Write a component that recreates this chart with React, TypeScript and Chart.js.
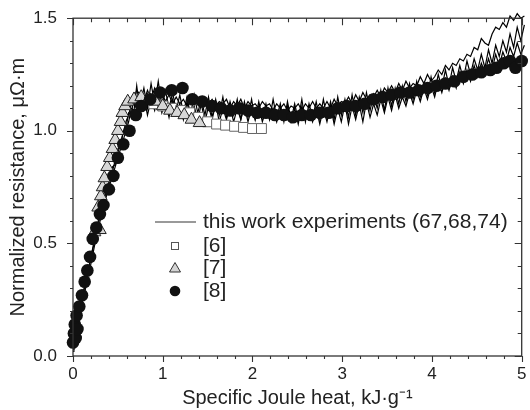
import React, { useEffect, useRef } from "react";
import { Chart, registerables } from "chart.js";
Chart.register(...registerables);

// ---------- data ----------
const lineX = [
  0, 0.01, 0.02, 0.03, 0.04, 0.06, 0.08, 0.11, 0.14, 0.17,
  0.2, 0.23, 0.26, 0.29, 0.32, 0.35, 0.38, 0.41, 0.44, 0.47,
  0.5, 0.53, 0.56, 0.59, 0.62, 0.65, 0.68, 0.71,
  0.75, 0.79, 0.83, 0.87, 0.91, 0.95, 0.99, 1.03, 1.07, 1.11,
  1.15, 1.19, 1.23, 1.27, 1.31, 1.35, 1.39, 1.43, 1.47, 1.51,
  1.55, 1.59, 1.63, 1.67, 1.71, 1.75, 1.79, 1.83, 1.87, 1.91,
  1.95, 1.99, 2.03, 2.07, 2.11, 2.15, 2.19, 2.23, 2.27, 2.31,
  2.35, 2.39, 2.43, 2.47, 2.51, 2.55, 2.59, 2.63, 2.67, 2.71,
  2.75, 2.79, 2.83, 2.87, 2.91, 2.95, 2.99, 3.03, 3.07, 3.11,
  3.15, 3.19, 3.23, 3.27, 3.31, 3.35, 3.39, 3.43, 3.47, 3.51,
  3.55, 3.59, 3.63, 3.67, 3.71, 3.75, 3.79, 3.83, 3.87, 3.91,
  3.95, 3.99, 4.03, 4.07, 4.11, 4.15, 4.19, 4.23, 4.27, 4.31,
  4.35, 4.39, 4.43, 4.47, 4.51, 4.55, 4.59, 4.63, 4.67, 4.71,
  4.75, 4.79, 4.83, 4.87, 4.91, 4.95, 4.99, 5.03,
];

const exp67 = [
  0.03, 0.12, 0.06, 0.22, 0.12, 0.2, 0.21, 0.28, 0.32, 0.39,
  0.43, 0.5, 0.55, 0.62, 0.65, 0.71, 0.74, 0.79, 0.82, 0.87,
  0.9, 0.95, 0.99, 1.04, 1.07, 1.12, 1.14, 1.18,
  1.16, 1.13, 1.18, 1.14, 1.19, 1.15, 1.17, 1.13, 1.16, 1.12,
  1.15, 1.12, 1.14, 1.11, 1.14, 1.12, 1.15, 1.11, 1.13, 1.12,
  1.14, 1.11, 1.13, 1.12, 1.14, 1.1, 1.13, 1.11, 1.14, 1.1,
  1.13, 1.11, 1.12, 1.1, 1.13, 1.11, 1.12, 1.09, 1.12, 1.1,
  1.12, 1.09, 1.11, 1.1, 1.12, 1.09, 1.12, 1.1, 1.13, 1.1,
  1.12, 1.1, 1.13, 1.1, 1.14, 1.11, 1.13, 1.12, 1.15, 1.12,
  1.16, 1.13, 1.17, 1.14, 1.16, 1.15, 1.18, 1.15, 1.19, 1.17,
  1.2, 1.17, 1.21, 1.18, 1.22, 1.19, 1.21, 1.2, 1.24, 1.21,
  1.25, 1.22, 1.24, 1.27, 1.25, 1.29, 1.27, 1.3, 1.29, 1.32,
  1.31, 1.34, 1.33, 1.37, 1.36, 1.41, 1.39, 1.38, 1.43, 1.46,
  1.45, 1.48, 1.46, 1.51, 1.49, 1.52, 1.5, 1.51,
];

const exp68 = [
  0.05, 0.09, 0.16, 0.1, 0.19, 0.15, 0.24, 0.26, 0.34, 0.37,
  0.45, 0.49, 0.57, 0.6, 0.67, 0.69, 0.76, 0.77, 0.84, 0.85,
  0.92, 0.93, 1.0, 1.01, 1.08, 1.07, 1.16, 1.11,
  1.12, 1.19, 1.1, 1.21, 1.12, 1.22, 1.11, 1.18, 1.1, 1.17,
  1.09, 1.16, 1.08, 1.15, 1.07, 1.16, 1.08, 1.14, 1.07, 1.15,
  1.06, 1.14, 1.07, 1.15, 1.06, 1.13, 1.07, 1.14, 1.05, 1.13,
  1.06, 1.14, 1.05, 1.13, 1.06, 1.12, 1.05, 1.14, 1.06, 1.12,
  1.04, 1.13, 1.05, 1.12, 1.05, 1.14, 1.04, 1.12, 1.06, 1.13,
  1.05, 1.14, 1.06, 1.13, 1.05, 1.15, 1.07, 1.14, 1.06, 1.16,
  1.07, 1.15, 1.08, 1.17, 1.09, 1.16, 1.1, 1.18, 1.09, 1.19,
  1.11, 1.19, 1.12, 1.2, 1.13, 1.21, 1.14, 1.22, 1.15, 1.21,
  1.16, 1.24, 1.17, 1.25, 1.19, 1.27, 1.2, 1.28, 1.22, 1.29,
  1.23, 1.31, 1.25, 1.32, 1.27, 1.34, 1.28, 1.36, 1.3, 1.38,
  1.33, 1.4, 1.35, 1.43, 1.37, 1.46, 1.4, 1.47,
];

const exp74 = [
  0.02, 0.06, 0.1, 0.14, 0.09, 0.17, 0.19, 0.25, 0.3, 0.36,
  0.41, 0.47, 0.53, 0.58, 0.63, 0.68, 0.72, 0.76, 0.8, 0.84,
  0.88, 0.92, 0.96, 1.0, 1.04, 1.1, 1.09, 1.2,
  1.08, 1.15, 1.07, 1.14, 1.09, 1.16, 1.08, 1.13, 1.06, 1.14,
  1.07, 1.12, 1.05, 1.13, 1.06, 1.11, 1.05, 1.12, 1.04, 1.11,
  1.05, 1.12, 1.04, 1.1, 1.05, 1.11, 1.04, 1.1, 1.05, 1.11,
  1.04, 1.1, 1.05, 1.11, 1.04, 1.09, 1.05, 1.1, 1.04, 1.1,
  1.05, 1.11, 1.04, 1.1, 1.03, 1.11, 1.05, 1.09, 1.04, 1.1,
  1.03, 1.1, 1.04, 1.11, 1.03, 1.1, 1.04, 1.12, 1.03, 1.11,
  1.05, 1.12, 1.04, 1.13, 1.06, 1.12, 1.07, 1.14, 1.08, 1.15,
  1.09, 1.16, 1.1, 1.15, 1.11, 1.17, 1.12, 1.18, 1.13, 1.19,
  1.14, 1.2, 1.15, 1.22, 1.17, 1.23, 1.18, 1.24, 1.19, 1.26,
  1.21, 1.27, 1.22, 1.29, 1.24, 1.3, 1.26, 1.32, 1.27, 1.34,
  1.29, 1.35, 1.31, 1.37, 1.33, 1.39, 1.34, 1.38,
];

const ref6X = [0.9, 1.0, 1.1, 1.2, 1.3, 1.4, 1.5, 1.6, 1.7, 1.8, 1.9, 2.0, 2.1];
const ref6Y = [1.12, 1.11, 1.1, 1.09, 1.08, 1.06, 1.04, 1.03, 1.025, 1.02, 1.015, 1.01, 1.01];

const ref7X = [0.24, 0.3, 0.28, 0.31, 0.33, 0.35, 0.38, 0.41, 0.44, 0.47, 0.5, 0.53, 0.55, 0.58, 0.61, 0.68, 0.76, 0.84, 0.92, 1.0, 1.08, 1.16, 1.24, 1.32, 1.41];
const ref7Y = [0.55, 0.56, 0.66, 0.71, 0.75, 0.79, 0.84, 0.88, 0.92, 0.96, 1.0, 1.04, 1.08, 1.11, 1.13, 1.14, 1.15, 1.14, 1.13, 1.11, 1.09, 1.08, 1.07, 1.05, 1.035];

const ref8X = [
  0.0, 0.01, 0.02, 0.03, 0.04, 0.05, 0.07, 0.1, 0.13, 0.16,
  0.19, 0.22, 0.26, 0.3, 0.34, 0.4, 0.45, 0.5, 0.56, 0.63,
  0.7, 0.76, 0.86, 0.97, 1.1, 1.22, 1.33, 1.44, 1.55, 1.65,
  1.75, 1.85, 1.95, 2.05, 2.15, 2.25, 2.35, 2.45, 2.55, 2.65,
  2.75, 2.85, 2.95, 3.05, 3.15, 3.25, 3.35, 3.45, 3.55, 3.65,
  3.75, 3.85, 3.95, 4.05, 4.15, 4.25, 4.35, 4.45, 4.55, 4.65,
  4.72, 4.8, 4.87, 4.93, 5.0, 5.04,
];
const ref8Y = [
  0.06, 0.1, 0.14, 0.08, 0.18, 0.12, 0.22, 0.27, 0.33, 0.38,
  0.44, 0.52, 0.57, 0.63, 0.67, 0.74, 0.8, 0.88, 0.94, 1.0,
  1.07, 1.11, 1.14, 1.17, 1.18, 1.19, 1.14, 1.13, 1.11, 1.1,
  1.09, 1.1, 1.09, 1.08, 1.08, 1.07, 1.07, 1.06, 1.07, 1.07,
  1.08, 1.08, 1.1, 1.11, 1.11, 1.12, 1.14, 1.15, 1.16, 1.17,
  1.17, 1.18, 1.19, 1.2, 1.21, 1.22, 1.24, 1.25, 1.26, 1.27,
  1.28, 1.3, 1.31, 1.28, 1.31, 1.3,
];

const xMajorTicks = [0, 1, 2, 3, 4, 5];
const xMinorTicks = [0.2, 0.4, 0.6, 0.8, 1.2, 1.4, 1.6, 1.8, 2.2, 2.4, 2.6, 2.8, 3.2, 3.4, 3.6, 3.8, 4.2, 4.4, 4.6, 4.8];
const yMajorTicks = [0, 0.5, 1.0, 1.5];
const yMinorTicks = [0.1, 0.2, 0.3, 0.4, 0.6, 0.7, 0.8, 0.9, 1.1, 1.2, 1.3, 1.4];

const legendLabels = ["this work experiments (67,68,74)", "[6]", "[7]", "[8]"];
const xTitle = "Specific Joule heat, kJ·g⁻¹";
const yTitle = "Normalized resistance, μΩ·m";

const FONT = "'Liberation Sans', Arial, Helvetica, sans-serif";

const pts = (xs: number[], ys: number[]) => xs.map((x, i) => ({ x, y: ys[i] }));

const framePlugin = {
  id: "frameTicks",
  afterDatasetsDraw(chart: any) {
    const { ctx, chartArea } = chart;
    const { left, right, top, bottom } = chartArea;
    const xs = chart.scales.x;
    const ys = chart.scales.y;
    ctx.save();
    ctx.strokeStyle = "#333";
    ctx.lineWidth = 1.3;
    ctx.strokeRect(left, top, right - left, bottom - top);
    ctx.lineWidth = 1.1;
    ctx.beginPath();
    const xt = (v: number, len: number) => {
      const p = Math.round(xs.getPixelForValue(v)) + 0.5;
      ctx.moveTo(p, bottom); ctx.lineTo(p, bottom + len);
      ctx.moveTo(p, top); ctx.lineTo(p, top + len + 1);
    };
    const yt = (v: number, len: number) => {
      const p = Math.round(ys.getPixelForValue(v)) + 0.5;
      ctx.moveTo(left, p); ctx.lineTo(left - len, p);
      ctx.moveTo(right, p); ctx.lineTo(right - len - 1, p);
    };
    xMajorTicks.forEach((v) => xt(v, 6));
    xMinorTicks.forEach((v) => xt(v, 3));
    yMajorTicks.forEach((v) => yt(v, 6));
    yMinorTicks.forEach((v) => yt(v, 3));
    ctx.stroke();
    ctx.restore();
  },
  afterDraw(chart: any) {
    const { ctx } = chart;
    ctx.save();
    ctx.font = `21px ${FONT}`;
    ctx.textBaseline = "middle";
    ctx.textAlign = "left";
    const mx = 175;
    const tx = 203;
    const rows = [222, 246, 268, 291];
    // line sample
    ctx.strokeStyle = "#777";
    ctx.lineWidth = 1.3;
    ctx.beginPath();
    ctx.moveTo(155, rows[0]);
    ctx.lineTo(196, rows[0]);
    ctx.stroke();
    // square
    ctx.fillStyle = "#fff";
    ctx.strokeStyle = "#555";
    ctx.lineWidth = 1;
    ctx.fillRect(mx - 4, rows[1] - 4, 8, 8);
    ctx.strokeRect(mx - 3.5, rows[1] - 3.5, 7, 7);
    // triangle
    ctx.beginPath();
    ctx.moveTo(mx, rows[2] - 5.5);
    ctx.lineTo(mx + 5.5, rows[2] + 4);
    ctx.lineTo(mx - 5.5, rows[2] + 4);
    ctx.closePath();
    ctx.fillStyle = "#d4d4d4";
    ctx.fill();
    ctx.strokeStyle = "#333";
    ctx.stroke();
    // circle
    ctx.beginPath();
    ctx.arc(mx, rows[3], 5.3, 0, Math.PI * 2);
    ctx.fillStyle = "#111";
    ctx.fill();
    ctx.fillStyle = "#222";
    legendLabels.forEach((t, i) => ctx.fillText(t, tx, rows[i]));
    ctx.restore();
  },
};

export default function App() {
  const ref = useRef<HTMLCanvasElement | null>(null);
  useEffect(() => {
    if (!ref.current) return;
    const lineDs = (data: number[]) => ({
      data: pts(lineX, data),
      showLine: true,
      pointRadius: 0,
      borderColor: "#000",
      borderWidth: 1.2,
      clip: false as any,
    });
    const chart = new Chart(ref.current, {
      type: "scatter",
      data: {
        datasets: [
          {
            data: pts(ref8X, ref8Y),
            pointStyle: "circle",
            pointRadius: 6.3,
            backgroundColor: "#111",
            borderColor: "#111",
            borderWidth: 0,
            clip: false as any,
          },
          {
            data: pts(ref7X, ref7Y),
            pointStyle: "triangle",
            pointRadius: 7.3,
            backgroundColor: "#d6d6d6",
            borderColor: "#222",
            borderWidth: 1,
          },
          {
            data: pts(ref6X, ref6Y),
            pointStyle: "rect",
            pointRadius: 7,
            backgroundColor: "#fff",
            borderColor: "#666",
            borderWidth: 1,
          },
          lineDs(exp67),
          lineDs(exp68),
          lineDs(exp74),
        ] as any,
      },
      options: {
        responsive: false,
        animation: false,
        devicePixelRatio: 1,
        events: [],
        layout: { padding: { left: 0, top: 18, right: 7, bottom: 0 } },
        plugins: { legend: { display: false }, tooltip: { enabled: false } },
        scales: {
          x: {
            type: "linear",
            min: 0,
            max: 5,
            grid: { display: false },
            border: { display: false },
            ticks: {
              stepSize: 1,
              padding: 0,
              color: "#222",
              font: { family: FONT, size: 17 },
              callback: (v: any) => String(v),
            },
            title: {
              display: true,
              text: xTitle,
              color: "#222",
              font: { family: FONT, size: 20 },
              padding: { top: 0, bottom: 0 },
            },
            afterFit: (s: any) => { s.height = 54; },
          },
          y: {
            type: "linear",
            min: 0,
            max: 1.5,
            grid: { display: false },
            border: { display: false },
            ticks: {
              stepSize: 0.5,
              padding: 8,
              color: "#222",
              font: { family: FONT, size: 17 },
              callback: (v: any) => Number(v).toFixed(1),
            },
            title: {
              display: true,
              text: yTitle,
              color: "#222",
              font: { family: FONT, size: 20 },
              padding: { top: 6, bottom: 0 },
            },
            afterFit: (s: any) => { s.width = 73; },
          },
        },
      } as any,
      plugins: [framePlugin],
    });
    return () => chart.destroy();
  }, []);
  return (
    <div style={{ position: "absolute", left: 0, top: 0, width: 530, height: 410, overflow: "hidden", background: "#fff" }}>
      <canvas ref={ref} width={530} height={410} style={{ display: "block" }} />
    </div>
  );
}
